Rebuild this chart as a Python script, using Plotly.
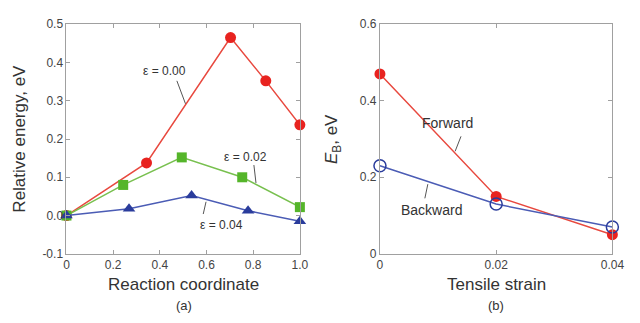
import plotly.graph_objects as go

# Panel (a): reaction coordinate profiles
x_e000 = [0.0, 0.343, 0.703, 0.854, 1.0]
y_e000 = [0.0, 0.1375, 0.465, 0.352, 0.237]
x_e002 = [0.0, 0.243, 0.494, 0.753, 1.0]
y_e002 = [0.0, 0.080, 0.152, 0.100, 0.022]
x_e004 = [0.0, 0.268, 0.536, 0.778, 1.0]
y_e004 = [0.0, 0.0175, 0.0525, 0.0125, -0.015]

# Panel (b): barriers vs strain
strain = [0.0, 0.02, 0.04]
forward = [0.47, 0.15, 0.05]
backward = [0.23, 0.13, 0.07]

a_xticks = [0, 0.2, 0.4, 0.6, 0.8, 1.0]
a_xticktext = ["0", "0.2", "0.4", "0.6", "0.8", "1.0"]
a_yticks = [-0.1, 0.0, 0.1, 0.2, 0.3, 0.4, 0.5]
a_yticktext = ["-0.1", "0.0", "0.1", "0.2", "0.3", "0.4", "0.5"]
b_xticks = [0, 0.02, 0.04]
b_xticktext = ["0", "0.02", "0.04"]
b_yticks = [0, 0.2, 0.4, 0.6]
b_yticktext = ["0", "0.2", "0.4", "0.6"]

RED_L, RED_M = "#e8493f", "#e8231f"
GRN_L, GRN_M = "#78c04f", "#55b52a"
BLU_L, BLU_M = "#4b5cb5", "#2a3c9c"
FONT = "Liberation Sans, Arial"

fig = go.Figure()
fig.add_trace(go.Scatter(x=x_e000, y=y_e000, mode="lines+markers",
    line=dict(color=RED_L, width=1.5), marker=dict(symbol="circle", size=11, color=RED_M),
    cliponaxis=False, xaxis="x", yaxis="y"))
fig.add_trace(go.Scatter(x=x_e002, y=y_e002, mode="lines+markers",
    line=dict(color=GRN_L, width=1.5), marker=dict(symbol="square", size=10, color=GRN_M),
    cliponaxis=False, xaxis="x", yaxis="y"))
fig.add_trace(go.Scatter(x=x_e004, y=y_e004, mode="lines+markers",
    line=dict(color=BLU_L, width=1.5), marker=dict(symbol="triangle-up", size=11, color=BLU_M),
    cliponaxis=False, xaxis="x", yaxis="y"))
fig.add_trace(go.Scatter(x=strain, y=forward, mode="lines+markers",
    line=dict(color=RED_L, width=1.5), marker=dict(symbol="circle", size=11, color=RED_M),
    cliponaxis=False, xaxis="x2", yaxis="y2"))
fig.add_trace(go.Scatter(x=strain, y=backward, mode="lines+markers",
    line=dict(color=BLU_L, width=1.5),
    marker=dict(symbol="circle-open", size=12, color=BLU_M, line=dict(width=1.5)),
    cliponaxis=False, xaxis="x2", yaxis="y2"))

W, H = 640, 323
def px(x): return x / W
def py(y): return 1 - y / H

axis_common = dict(showline=True, linecolor="#a0a0a0", linewidth=1, mirror="ticks",
                   ticks="inside", ticklen=4, tickcolor="#a0a0a0", showgrid=False,
                   zeroline=False, tickfont=dict(family=FONT, size=12, color="#444"))

fig.update_layout(
    width=W, height=H, autosize=False, margin=dict(l=0, r=0, t=0, b=0, pad=0),
    paper_bgcolor="white", plot_bgcolor="white", showlegend=False,
    xaxis=dict(domain=[px(65), px(304)], range=[0, 1], anchor="y",
               tickvals=a_xticks, ticktext=a_xticktext, **axis_common),
    yaxis=dict(domain=[py(258), py(18)], range=[-0.1, 0.5], anchor="x",
               tickvals=a_yticks, ticktext=a_yticktext, **axis_common),
    xaxis2=dict(domain=[px(386), px(624)], range=[0, 0.04], anchor="y2",
                tickvals=b_xticks, ticktext=b_xticktext, **axis_common),
    yaxis2=dict(domain=[py(258), py(18)], range=[0, 0.6], anchor="x2",
                tickvals=b_yticks, ticktext=b_yticktext, **axis_common),
)

lead = dict(color="#555", width=1)
labels = [
    ("x", "y", 0.418, 0.378, "ε = 0.00", (0.473, 0.352, 0.51, 0.292)),
    ("x", "y", 0.766, 0.152, "ε = 0.02", (0.803, 0.132, 0.812, 0.085)),
    ("x", "y", 0.665, -0.026, "ε = 0.04", (0.586, 0.004, 0.598, 0.036)),
    ("x2", "y2", 0.0116, 0.343, "Forward", (0.01395, 0.307, 0.01294, 0.268)),
    ("x2", "y2", 0.0089, 0.115, "Backward", (0.00773, 0.145, 0.00824, 0.182)),
]
for xr, yr, tx, ty, txt, (x0, y0, x1, y1) in labels:
    size = 12 if txt.startswith("ε") else 14
    fig.add_annotation(x=tx, y=ty, xref=xr, yref=yr, text=txt, showarrow=False,
                       xanchor="center", yanchor="middle",
                       font=dict(family=FONT, size=size, color="#333"))
    fig.add_shape(type="line", x0=x0, y0=y0, x1=x1, y1=y1, xref=xr, yref=yr, line=lead)

title_font = dict(family=FONT, size=17, color="#333")
sub_font = dict(family=FONT, size=13, color="#333")
titles = [
    (16, 138, "Relative energy, eV", -90, title_font),
    (185, 290, "Reaction coordinate", 0, title_font),
    (185, 312, "(a)", 0, sub_font),
    (338, 138, "<i>E</i><sub>B</sub>, eV", -90, title_font),
    (505, 290, "Tensile strain", 0, title_font),
    (505, 312, "(b)", 0, sub_font),
]
for tx, ty, txt, ang, f in titles:
    fig.add_annotation(x=px(tx), y=py(ty), xref="paper", yref="paper", text=txt,
                       textangle=ang, showarrow=False, xanchor="center", yanchor="middle", font=f)

fig.write_html("out.html")
